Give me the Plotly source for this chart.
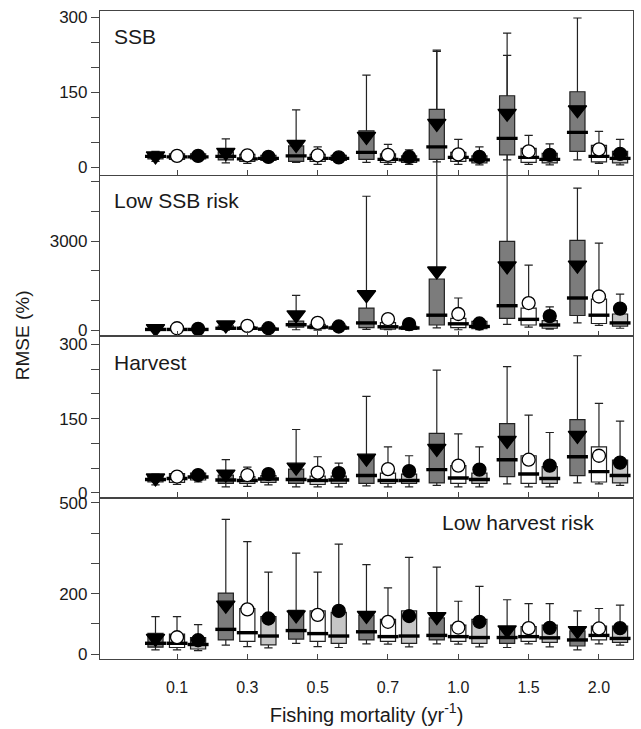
import plotly.graph_objects as go
import numpy as np

# ---------------- data ----------------
F_LABELS = ['0.1', '0.3', '0.5', '0.7', '1.0', '1.5', '2.0']
PANEL_NAMES = ['SSB', 'Low SSB risk', 'Harvest', 'Low harvest risk']

# each array: [dark series, white series, light series] x 7 fishing mortality levels
SSB_LOW = [[12, 9, 10, 10, 11, 15, 15], [12, 8, 6, 6, 6, 6, 8], [13, 12, 12, 6, 5, 5, 5]]
SSB_Q1 = [[17, 15, 12, 16, 16, 25, 32], [16, 12, 12, 10, 12, 10, 11], [17, 14, 14, 10, 9, 9, 9]]
SSB_MED = [[22, 22, 23, 30, 41, 58, 70], [21, 17, 18, 16, 20, 20, 22], [21, 18, 18, 15, 15, 16, 18]]
SSB_Q3 = [[28, 31, 43, 73, 116, 143, 151], [27, 26, 26, 27, 30, 38, 44], [27, 24, 24, 23, 23, 28, 32]]
SSB_UP = [[32, 57, 115, 184, 234, 268, 298], [33, 33, 41, 46, 56, 64, 72], [31, 27, 27, 35, 41, 47, 56]]
SSB_MEAN = [[23, 30, 46, 62, 88, 108, 115], [23, 24, 24, 25, 26, 32, 36], [23, 21, 20, 21, 21, 25, 27]]

LSR_LOW = [[0, 5, 20, 30, 80, 200, 250], [0, 5, 10, 20, 20, 110, 170], [0, 5, 10, 10, 20, 40, 70]]
LSR_Q1 = [[10, 30, 110, 90, 180, 400, 500], [10, 30, 60, 40, 90, 180, 230], [10, 20, 40, 30, 60, 70, 140]]
LSR_MED = [[30, 70, 190, 250, 510, 830, 1090], [30, 70, 110, 120, 220, 370, 510], [30, 40, 80, 80, 130, 180, 250]]
LSR_Q3 = [[70, 150, 310, 750, 1730, 3000, 3030], [60, 130, 200, 260, 400, 750, 1050], [60, 80, 140, 140, 300, 330, 550]]
LSR_UP = [[110, 230, 1180, 4520, 9400, 9270, 4790], [100, 250, 380, 420, 1090, 2200, 2940], [90, 120, 220, 260, 380, 790, 1220]]
LSR_MEAN = [[60, 180, 520, 1200, 2000, 2170, 2200], [70, 150, 250, 380, 550, 920, 1140], [50, 70, 130, 210, 230, 480, 730]]

HAR_LOW = [[16, 12, 12, 14, 15, 18, 20], [17, 13, 12, 12, 12, 12, 18], [22, 16, 12, 12, 12, 12, 15]]
HAR_Q1 = [[22, 19, 19, 19, 20, 33, 35], [21, 19, 17, 19, 19, 19, 22], [26, 21, 19, 19, 19, 19, 20]]
HAR_MED = [[27, 26, 27, 35, 47, 67, 73], [29, 25, 25, 25, 30, 38, 43], [32, 28, 26, 25, 27, 29, 35]]
HAR_Q3 = [[35, 36, 48, 76, 120, 140, 148], [39, 33, 34, 40, 55, 75, 93], [40, 35, 34, 38, 40, 53, 66]]
HAR_UP = [[38, 67, 128, 195, 248, 255, 277], [43, 52, 73, 93, 119, 157, 181], [44, 45, 60, 75, 93, 122, 145]]
HAR_MEAN = [[30, 38, 52, 70, 90, 106, 116], [33, 36, 41, 48, 55, 67, 75], [36, 38, 40, 44, 47, 55, 61]]

LHR_LOW = [[14, 30, 36, 34, 34, 22, 14], [14, 25, 25, 33, 33, 34, 34], [12, 21, 22, 24, 24, 24, 30]]
LHR_Q1 = [[23, 47, 50, 47, 47, 36, 27], [22, 42, 42, 42, 42, 42, 47], [17, 31, 36, 36, 36, 39, 39]]
LHR_MED = [[36, 82, 78, 74, 62, 55, 47], [36, 71, 68, 58, 58, 58, 62], [32, 60, 60, 60, 55, 54, 52]]
LHR_Q3 = [[69, 202, 145, 129, 120, 85, 77], [66, 151, 143, 115, 96, 91, 93], [55, 124, 138, 143, 115, 96, 93]]
LHR_UP = [[124, 446, 334, 296, 288, 180, 143], [124, 372, 271, 219, 175, 167, 151], [98, 271, 364, 320, 224, 167, 162]]
LHR_MEAN = [[52, 162, 130, 128, 124, 80, 78], [56, 148, 130, 107, 88, 86, 85], [46, 118, 143, 126, 107, 87, 86]]

Y1_TICKS = [0, 150, 300]
Y2_TICKS = [0, 3000]
Y3_TICKS = [0, 150, 300]
Y4_TICKS = [0, 200, 500]
Y1_MINOR = [50, 100, 200, 250]
Y2_MINOR = [1000, 2000, 4000, 5000]
Y3_MINOR = [50, 100, 200, 250]
Y4_MINOR = [100, 300, 400]

# ---------------- style ----------------
FONT = 'Liberation Sans, Arial, sans-serif'
TXT = '#1a1a1a'
FRAME = '#444444'
FILLS = ['#7c7c7c', '#ffffff', '#c6c6c6']
MEAN_SYM = ['triangle-down', 'circle', 'circle']
MEAN_FILL = ['black', 'white', 'black']
MEAN_SIZE = [16, 13, 13]
OFFSETS = [-0.306, 0.0, 0.300]
BOX_W = 0.215
XRANGE = [-1.095, 6.484]

D1 = [0.7462, 1.0]
D2 = [0.4985, 0.7462]
D3 = [0.2492, 0.4985]
D4 = [0.0, 0.2492]
R1 = [-16, 312]
R2 = [-190, 5220]
R3 = [-9.4, 317]
R4 = [-16, 518]
R2_EXT = [R2[0], R2[0] + (R2[1] - R2[0]) * (1 - D2[0]) / (D2[1] - D2[0])]

fig = go.Figure()


def add_panel(xa, ya, low, q1, med, q3, up, mean):
    base = np.arange(len(F_LABELS))
    for s in range(3):
        xs = base + OFFSETS[s]
        fig.add_trace(go.Box(
            x=xs, q1=q1[s], median=med[s], q3=q3[s], lowerfence=low[s], upperfence=up[s],
            width=BOX_W, fillcolor=FILLS[s], line=dict(color='#222222', width=1.2),
            whiskerwidth=0.55, boxpoints=False, xaxis=xa, yaxis=ya,
            showlegend=False, hoverinfo='skip'))
        fig.add_trace(go.Scatter(
            x=xs, y=med[s], mode='markers', xaxis=xa, yaxis=ya, showlegend=False, hoverinfo='skip',
            marker=dict(symbol='line-ew', size=15, line=dict(width=3.4, color='black'))))
        fig.add_trace(go.Scatter(
            x=xs, y=mean[s], mode='markers', xaxis=xa, yaxis=ya, showlegend=False, hoverinfo='skip',
            marker=dict(symbol=MEAN_SYM[s], size=MEAN_SIZE[s], color=MEAN_FILL[s],
                        line=dict(color='black', width=1.3))))


# panel 2 drawn on an extended (hidden) y scale so long whiskers run up into panel 1
add_panel('x', 'y', LSR_LOW, LSR_Q1, LSR_MED, LSR_Q3, LSR_UP, LSR_MEAN)
fig.add_trace(go.Scatter(x=[0], y=[0], xaxis='x', yaxis='y2', mode='markers',
                         marker=dict(opacity=0), showlegend=False, hoverinfo='skip'))
add_panel('x2', 'y3', SSB_LOW, SSB_Q1, SSB_MED, SSB_Q3, SSB_UP, SSB_MEAN)
add_panel('x3', 'y4', HAR_LOW, HAR_Q1, HAR_MED, HAR_Q3, HAR_UP, HAR_MEAN)
add_panel('x4', 'y5', LHR_LOW, LHR_Q1, LHR_MED, LHR_Q3, LHR_UP, LHR_MEAN)


def xax(anchor, labels):
    return dict(domain=[0, 1], range=XRANGE, anchor=anchor, showgrid=False, zeroline=False,
                showline=True, linecolor=FRAME, linewidth=1.2, mirror=True,
                ticks='inside', ticklen=5, tickwidth=1.2, tickcolor=FRAME,
                tickvals=list(range(len(F_LABELS))), ticktext=F_LABELS,
                showticklabels=labels, tickfont=dict(size=16, color=TXT, family=FONT))


def yax(anchor, dom, rng, ticks, minor):
    return dict(domain=dom, range=rng, anchor=anchor, showgrid=False, zeroline=False,
                showline=True, linecolor=FRAME, linewidth=1.2, mirror=True,
                ticks='outside', ticklen=8, tickwidth=1.2, tickcolor=FRAME,
                tickvals=ticks, tickfont=dict(size=17, color=TXT, family=FONT),
                minor=dict(tickvals=minor, ticks='outside', ticklen=8, tickwidth=1.2, tickcolor=FRAME))


fig.update_layout(
    width=641, height=729,
    margin=dict(l=100, r=8, t=7, b=68),
    paper_bgcolor='white', plot_bgcolor='rgba(0,0,0,0)',
    font=dict(family=FONT, color=TXT),
    showlegend=False,
    xaxis=xax('y', False),
    yaxis=dict(domain=[D2[0], 1], range=R2_EXT, anchor='x', showline=False, ticks='',
               showticklabels=False, showgrid=False, zeroline=False),
    yaxis2=yax('x', D2, R2, Y2_TICKS, Y2_MINOR),
    xaxis2=xax('y3', False),
    yaxis3=yax('x2', D1, R1, Y1_TICKS, Y1_MINOR),
    xaxis3=xax('y4', False),
    yaxis4=yax('x3', D3, R3, Y3_TICKS, Y3_MINOR),
    xaxis4=xax('y5', True),
    yaxis5=yax('x4', D4, R4, Y4_TICKS, Y4_MINOR),
)
fig.update_layout(xaxis4=dict(ticklabelstandoff=14,
                              title=dict(text='Fishing mortality (yr<sup>-1</sup>)',
                                         font=dict(size=20, color=TXT, family=FONT), standoff=12)))

ann = [
    dict(text=PANEL_NAMES[0], xref='x2 domain', yref='y3 domain', x=0.022, y=0.843, xanchor='left'),
    dict(text=PANEL_NAMES[1], xref='x domain', yref='y2 domain', x=0.022, y=0.846, xanchor='left'),
    dict(text=PANEL_NAMES[2], xref='x3 domain', yref='y4 domain', x=0.022, y=0.834, xanchor='left'),
    dict(text=PANEL_NAMES[3], xref='x4 domain', yref='y5 domain', x=0.638, y=0.847, xanchor='left'),
]
for a in ann:
    a.update(showarrow=False, yanchor='middle', font=dict(size=21, color=TXT, family=FONT))
    fig.add_annotation(**a)
fig.add_annotation(text='RMSE (%)', xref='paper', yref='paper', x=-0.146, y=0.5, textangle=-90,
                   xanchor='center', yanchor='middle', showarrow=False,
                   font=dict(size=19, color=TXT, family=FONT))

fig.write_html('out.html', config={'displayModeBar': False},
               post_script="document.body.style.margin='0px';document.body.style.overflow='hidden';")
